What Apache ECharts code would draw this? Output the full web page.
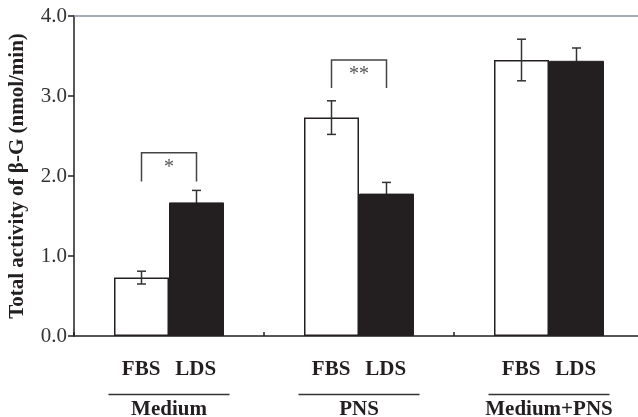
<!DOCTYPE html>
<html>
<head>
<meta charset="utf-8">
<script src="https://cdn.jsdelivr.net/npm/echarts@6/dist/echarts.min.js"></script>
<style>
  html, body { margin: 0; padding: 0; background: #fff; }
  #chart { width: 638px; height: 417px; }
</style>
</head>
<body>
<div id="chart"></div>
<script>
// Groups and the two serum conditions compared within each group
const categories = ['Medium', 'PNS', 'Medium+PNS'];
const seriesNames = ['FBS', 'LDS'];

// Total β-G activity (nmol/min): means and error half-widths
const fbsMean = [0.73, 2.73, 3.45];
const fbsErr = [0.08, 0.21, 0.26];
const ldsMean = [1.67, 1.78, 3.44];
const ldsErr = [0.15, 0.14, 0.16];

// Significance brackets: group index, bracket top, bracket foot, mark
const sigGroup = [0, 1];
const sigTop = [2.29, 3.45];
const sigFoot = [1.93, 3.10];
const sigMark = ['*', '**'];

// Y axis ticks
const yMin = 0, yMax = 4, yStep = 1;

const FONT = '"Liberation Serif", "Times New Roman", serif';
const INK = '#231f20';
const BAR_W = 55;

const chart = echarts.init(document.getElementById('chart'));

function errorItem(offsetSign) {
  return function (params, api) {
    const i = api.value(0);
    const mean = api.value(1);
    const err = api.value(2);
    const x = api.coord([i, mean])[0] + offsetSign * BAR_W / 2;
    const yHi = api.coord([i, mean + err])[1];
    const yLo = api.coord([i, mean - err])[1];
    const cap = 4.5;
    const style = { stroke: '#333', lineWidth: 1.5 };
    return {
      type: 'group',
      children: [
        { type: 'line', shape: { x1: x, y1: yHi, x2: x, y2: yLo }, style },
        { type: 'line', shape: { x1: x - cap, y1: yHi, x2: x + cap, y2: yHi }, style },
        { type: 'line', shape: { x1: x - cap, y1: yLo, x2: x + cap, y2: yLo }, style }
      ]
    };
  };
}

function bracketItem(params, api) {
  const i = api.value(0);
  const top = api.value(1);
  const foot = api.value(2);
  const mark = sigMark[params.dataIndex];
  const cx = api.coord([i, top])[0];
  const lx = cx - BAR_W / 2, rx = cx + BAR_W / 2;
  const yt = api.coord([i, top])[1];
  const yf = api.coord([i, foot])[1];
  return {
    type: 'group',
    children: [
      {
        type: 'polyline',
        shape: { points: [[lx, yf], [lx, yt], [rx, yt], [rx, yf]] },
        style: { stroke: '#444', lineWidth: 1.5, fill: null }
      },
      {
        type: 'text',
        x: cx, y: yt + 15,
        style: {
          text: mark, fontFamily: FONT, fontSize: 20, fill: '#555',
          align: 'center', verticalAlign: 'middle'
        }
      }
    ]
  };
}

const option = {
  animation: false,
  backgroundColor: '#fff',
  grid: {
    left: 74, width: 570, top: 16, bottom: 81,
    containLabel: false, outerBoundsMode: 'none'
  },
  xAxis: [
    {
      type: 'category',
      data: categories,
      axisLine: { lineStyle: { color: INK, width: 1.5 } },
      axisTick: { show: true, inside: true, length: 4, lineStyle: { color: INK, width: 1.5 } },
      axisLabel: {
        interval: 0,
        margin: 19,
        hideOverlap: false,
        formatter: function (v) {
          return '{s|' + seriesNames[0] + '}{gap|}{s|' + seriesNames[1] + '}\n{u|}\n{g|' + v + '}';
        },
        rich: {
          s: { fontFamily: FONT, fontWeight: 'bold', fontSize: 21, color: INK, lineHeight: 30 },
          gap: { width: 15, lineHeight: 30 },
          u: { width: 121, height: 1.3, backgroundColor: '#333', lineHeight: 19 },
          g: { fontFamily: FONT, fontWeight: 'bold', fontSize: 21, color: INK, lineHeight: 12 }
        }
      }
    },
    {
      type: 'category',
      data: categories,
      position: 'top',
      axisLine: { lineStyle: { color: '#8694a3', width: 1.5 } },
      axisTick: { show: false },
      axisLabel: { show: false }
    }
  ],
  yAxis: {
    type: 'value',
    min: yMin, max: yMax, interval: yStep,
    name: 'Total activity of β-G (nmol/min)',
    nameLocation: 'middle',
    nameGap: 46,
    nameTextStyle: { fontFamily: FONT, fontWeight: 'bold', fontSize: 21, color: INK },
    axisLine: { show: true, lineStyle: { color: INK, width: 1.5 } },
    axisTick: { show: true, length: 6, lineStyle: { color: INK, width: 1.5 } },
    axisLabel: {
      margin: 7,
      fontFamily: FONT, fontSize: 21, color: '#333',
      formatter: function (v) { return v.toFixed(1); }
    },
    splitLine: { show: false }
  },
  series: [
    {
      name: seriesNames[0], type: 'bar', xAxisIndex: 0,
      data: fbsMean, barWidth: BAR_W, barGap: '0%', z: 2,
      itemStyle: { color: '#fff', borderColor: INK, borderWidth: 1.5 }
    },
    {
      name: seriesNames[1], type: 'bar', xAxisIndex: 0,
      data: ldsMean, barWidth: BAR_W, barGap: '0%', z: 2,
      itemStyle: { color: INK, borderColor: INK, borderWidth: 1 }
    },
    {
      type: 'custom', xAxisIndex: 0, z: 3,
      renderItem: errorItem(-1),
      data: fbsMean.map((m, i) => [i, m, fbsErr[i]])
    },
    {
      type: 'custom', xAxisIndex: 0, z: 1,
      renderItem: errorItem(1),
      data: ldsMean.map((m, i) => [i, m, ldsErr[i]])
    },
    {
      type: 'custom', xAxisIndex: 0, z: 3,
      renderItem: bracketItem,
      data: sigGroup.map((g, k) => [g, sigTop[k], sigFoot[k]])
    }
  ]
};

chart.setOption(option);
</script>
</body>
</html>
